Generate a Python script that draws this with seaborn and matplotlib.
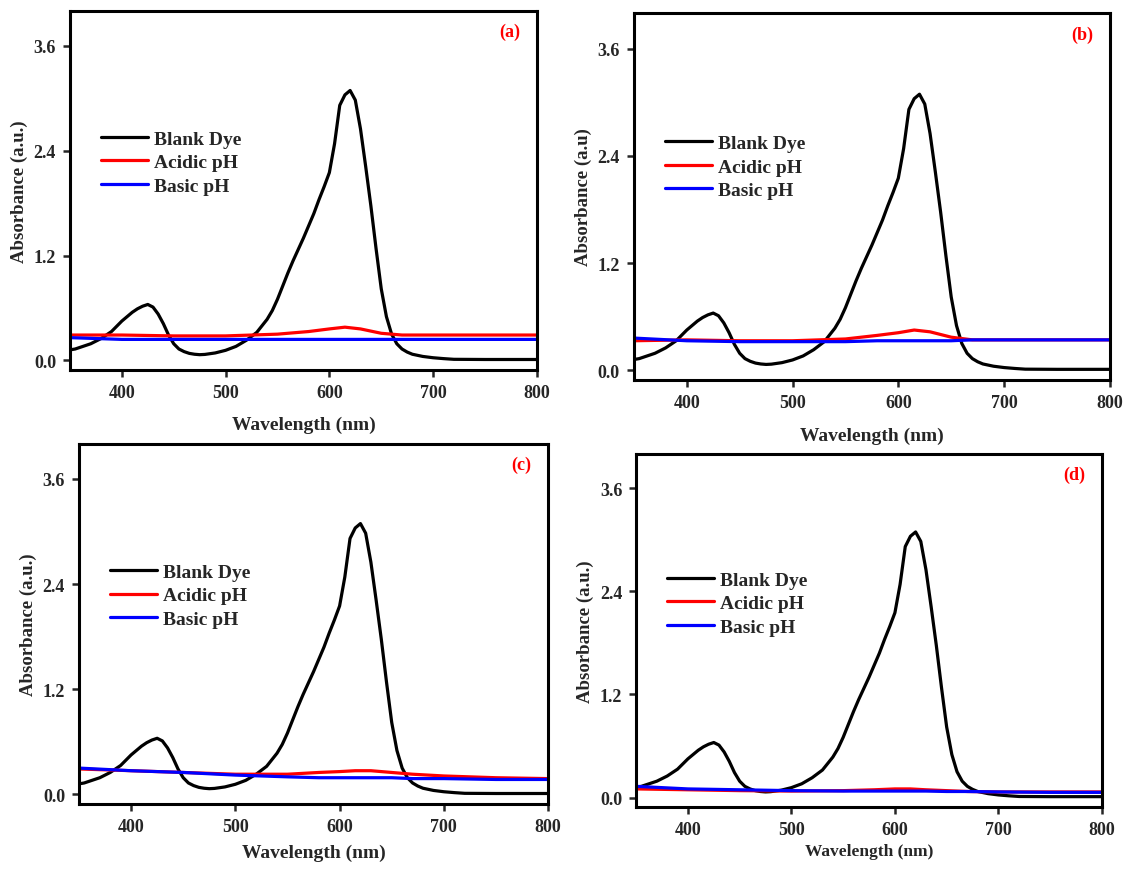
import numpy as np
import pandas as pd
import matplotlib.pyplot as plt
import seaborn as sns

# blank dye spectrum (same dye in all four panels)
wl_blank = [350, 355, 360, 365, 370, 375, 380, 385, 390, 395, 400, 405, 410, 415, 420,
            425, 430, 435, 440, 445, 450, 455, 460, 465, 470, 475, 480, 490, 500, 510,
            520, 530, 540, 545, 550, 555, 560, 565, 570, 575, 580, 585, 590, 595, 600,
            605, 610, 615, 620, 625, 630, 635, 640, 645, 650, 655, 660, 665, 670, 675,
            680, 690, 700, 710, 720, 750, 800]
abs_blank = [0.12, 0.13, 0.15, 0.17, 0.19, 0.22, 0.25, 0.29, 0.33, 0.39, 0.45, 0.50, 0.55, 0.59, 0.62,
             0.64, 0.61, 0.53, 0.42, 0.29, 0.19, 0.13, 0.10, 0.08, 0.07, 0.065, 0.068, 0.085, 0.115, 0.16,
             0.23, 0.32, 0.47, 0.57, 0.70, 0.85, 1.00, 1.14, 1.27, 1.40, 1.54, 1.68, 1.84, 1.99, 2.15,
             2.48, 2.92, 3.04, 3.09, 2.98, 2.65, 2.22, 1.77, 1.28, 0.82, 0.50, 0.30, 0.19, 0.13, 0.095,
             0.07, 0.045, 0.03, 0.02, 0.012, 0.01, 0.01]

wl_ph = [350, 400, 450, 500, 550, 580, 600, 615, 630, 650, 670, 700, 750, 800]
acid_a = [0.29, 0.29, 0.28, 0.28, 0.30, 0.33, 0.36, 0.38, 0.36, 0.31, 0.29, 0.29, 0.29, 0.29]
basic_a = [0.26, 0.24, 0.24, 0.24, 0.24, 0.24, 0.24, 0.24, 0.24, 0.24, 0.24, 0.24, 0.24, 0.24]
acid_b = [0.33, 0.34, 0.33, 0.33, 0.35, 0.39, 0.42, 0.45, 0.43, 0.37, 0.34, 0.34, 0.34, 0.34]
basic_b = [0.36, 0.33, 0.32, 0.32, 0.32, 0.33, 0.33, 0.33, 0.33, 0.33, 0.34, 0.34, 0.34, 0.34]
acid_c = [0.29, 0.27, 0.25, 0.23, 0.23, 0.25, 0.26, 0.27, 0.27, 0.25, 0.23, 0.21, 0.19, 0.18]
basic_c = [0.30, 0.27, 0.25, 0.22, 0.20, 0.19, 0.19, 0.19, 0.19, 0.19, 0.18, 0.18, 0.17, 0.17]
acid_d = [0.10, 0.09, 0.08, 0.075, 0.08, 0.09, 0.10, 0.10, 0.09, 0.08, 0.07, 0.065, 0.065, 0.065]
basic_d = [0.13, 0.10, 0.09, 0.08, 0.075, 0.075, 0.075, 0.075, 0.075, 0.07, 0.07, 0.065, 0.06, 0.06]

panels = ["(a)", "(b)", "(c)", "(d)"]
acid = [acid_a, acid_b, acid_c, acid_d]
basic = [basic_a, basic_b, basic_c, basic_d]
ylabels = ["Absorbance (a.u.)", "Absorbance (a.u)", "Absorbance (a.u.)", "Absorbance (a.u.)"]

# axes rectangles
boxes = [[0.0616, 0.5736, 0.411, 0.4126],
         [0.558, 0.562, 0.419, 0.422],
         [0.0695, 0.0747, 0.413, 0.414],
         [0.560, 0.0713, 0.410, 0.406]]
xlab_size = [14, 14, 14, 12.5]
xlab_pad = [11, 11, 6, 4]

sns.set_style("ticks")
plt.rcParams["font.family"] = ["Liberation Serif", "DejaVu Serif"]
plt.rcParams["font.weight"] = "bold"

fig = plt.figure(figsize=(11.36, 8.7), dpi=100)

for i in range(4):
    ax = fig.add_axes(boxes[i])
    sns.lineplot(x=wl_blank, y=abs_blank, ax=ax, color="black", lw=2.3, label="Blank Dye")
    sns.lineplot(x=wl_ph, y=acid[i], ax=ax, color="red", lw=2.3, label="Acidic pH")
    sns.lineplot(x=wl_ph, y=basic[i], ax=ax, color="blue", lw=2.3, label="Basic pH")
    ax.set_xlim(350, 800)
    ax.set_ylim(-0.11, 4.0)
    ax.set_xticks([400, 500, 600, 700, 800])
    ax.set_yticks([0.0, 1.2, 2.4, 3.6])
    ax.set_yticklabels(["0.0", "1.2", "2.4", "3.6"])
    ax.tick_params(direction="out", length=5, width=1.8, labelsize=13, pad=5)
    for lab in ax.get_xticklabels() + ax.get_yticklabels():
        lab.set_fontweight("bold")
    for sp in ax.spines.values():
        sp.set_linewidth(2.2)
        sp.set_color("black")
    ax.set_xlabel("Wavelength (nm)", fontsize=xlab_size[i], fontweight="bold", labelpad=xlab_pad[i])
    ax.set_ylabel(ylabels[i], fontsize=13.5, fontweight="bold", labelpad=4)
    ax.text(0.965, 0.93, panels[i], transform=ax.transAxes, color="red",
            fontsize=13, fontweight="bold", ha="right")
    ax.legend(loc="upper left", bbox_to_anchor=(0.05, 0.69), frameon=False, borderaxespad=0,
              handlelength=2.4, handletextpad=0.3, labelspacing=0.3,
              prop={"weight": "bold", "size": 14})

fig.savefig("out.png", dpi=100)
